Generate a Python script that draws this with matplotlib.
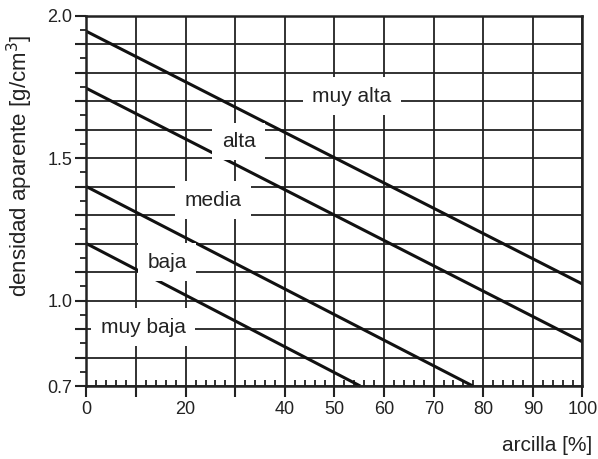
import numpy as np
import matplotlib
matplotlib.use("Agg")
import matplotlib.pyplot as plt
from matplotlib.ticker import MultipleLocator, FixedLocator

plt.rcParams['font.family'] = ['Liberation Sans', 'DejaVu Sans']

# --- data: straight lines (start / end points) for each compaction class ---
classes = ["muy alta", "alta", "media", "baja"]
x_start = [0, 0, 0, 0]
y_start = [1.945, 1.745, 1.40, 1.20]
x_end = [100, 100, 77.9, 55.2]
y_end = [1.058, 0.855, 0.70, 0.70]

# label positions (x in %, y in g/cm3)
label_names = ["muy alta", "alta", "media", "baja", "muy baja"]
label_x = [53.5, 30.7, 25.5, 16.3, 11.4]
label_y = [1.718, 1.558, 1.352, 1.135, 0.907]

x_ticks = [0, 10, 20, 30, 40, 50, 60, 70, 80, 90, 100]
x_ticklabels = ["0", "", "20", "", "40", "50", "60", "70", "80", "90", "100"]
y_ticks = [0.7, 0.8, 0.9, 1.0, 1.1, 1.2, 1.3, 1.4, 1.5, 1.6, 1.7, 1.8, 1.9, 2.0]
y_ticklabels = ["0.7", "", "", "1.0", "", "", "", "", "1.5", "", "", "", "", "2.0"]

# ============================================================
fig = plt.figure(figsize=(5.98, 4.59), dpi=100)
ax = fig.add_axes([0.1446, 0.159, 0.8294, 0.8068])

ax.set_xlim(0, 100)
ax.set_ylim(0.7, 2.0)

ax.grid(True, which='major', color='#222222', linewidth=1.3, zorder=1)
ax.set_axisbelow(True)

for xs, ys, xe, ye in zip(x_start, y_start, x_end, y_end):
    ax.plot([xs, xe], [ys, ye], color='#111111', linewidth=2.2,
            solid_capstyle='butt', zorder=3, clip_on=False)

for name, lx, ly in zip(label_names, label_x, label_y):
    ax.text(lx, ly, name, fontsize=15, color='#222222', ha='center', va='center',
            zorder=4, bbox=dict(boxstyle='square,pad=0.45', fc='white', ec='none'))

ax.xaxis.set_major_locator(FixedLocator(x_ticks))
ax.set_xticklabels(x_ticklabels)
ax.xaxis.set_minor_locator(MultipleLocator(2))
ax.yaxis.set_major_locator(FixedLocator(y_ticks))
ax.set_yticklabels(y_ticklabels)
ax.yaxis.set_minor_locator(MultipleLocator(0.05))

ax.tick_params(axis='x', which='major', direction='out', length=8, width=1.5,
               labelsize=13, pad=3, colors='#222222')
ax.tick_params(axis='x', which='minor', direction='in', length=4, width=1.3,
               colors='#222222')
ax.tick_params(axis='y', which='major', direction='out', length=8, width=1.5,
               labelsize=13, pad=2, colors='#222222')
ax.tick_params(axis='y', which='minor', direction='out', length=4.5, width=1.3,
               colors='#222222')

for sp in ax.spines.values():
    sp.set_linewidth(1.8)
    sp.set_color('#222222')
    sp.set_zorder(5)

ax.set_ylabel('densidad aparente [g/cm$^3$]', fontsize=16, color='#222222')
ax.yaxis.set_label_coords(-0.104, 0.594)
ax.text(1.02, -0.16, 'arcilla [%]', transform=ax.transAxes, fontsize=15,
        color='#222222', ha='right', va='center')

fig.savefig('out.png', dpi=100)
